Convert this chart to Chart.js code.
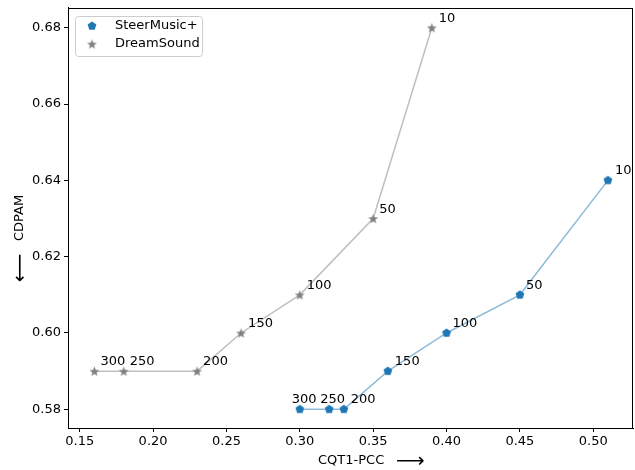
<!DOCTYPE html>
<html><head><meta charset="utf-8">
<script src="https://cdn.jsdelivr.net/npm/chart.js@4.4.1/dist/chart.umd.min.js"></script>
<style>html,body{margin:0;padding:0;background:#fff}#wrap{width:635px;height:470px}</style>
</head><body><div id="wrap"><canvas id="c" width="635" height="470"></canvas></div>
<script>
const steerX = [0.51, 0.45, 0.40, 0.36, 0.33, 0.32, 0.30];
const steerY = [0.64, 0.61, 0.60, 0.59, 0.58, 0.58, 0.58];
const dreamX = [0.39, 0.35, 0.30, 0.26, 0.23, 0.18, 0.16];
const dreamY = [0.68, 0.63, 0.61, 0.60, 0.59, 0.59, 0.59];
const stepLabels = ['10', '50', '100', '150', '200', '250', '300'];
const xTicks = [0.15, 0.20, 0.25, 0.30, 0.35, 0.40, 0.45, 0.50];
const yTicks = [0.58, 0.60, 0.62, 0.64, 0.66, 0.68];
const seriesNames = ['SteerMusic+', 'DreamSound'];
// label horizontal offsets (px) per point
const steerDx = [7, 6, 6, 7, 7, -9, -8];
const dreamDx = [7, 6, 7, 7, 6, 6, 6];

const FONT = '"DejaVu Sans", sans-serif';
const BLUE = '#1f77b4', GRAY = '#808080';

function makePentagon(color, r) {
  const s = Math.ceil(r * 2 + 2), c = document.createElement('canvas');
  c.width = s; c.height = s;
  const g = c.getContext('2d'); g.fillStyle = color; g.beginPath();
  for (let i = 0; i < 5; i++) {
    const a = -Math.PI / 2 + i * 2 * Math.PI / 5;
    const px = s / 2 + r * Math.cos(a), py = s / 2 + r * Math.sin(a);
    i ? g.lineTo(px, py) : g.moveTo(px, py);
  }
  g.closePath(); g.fill(); return c;
}
function makeStar(color, r) {
  const s = Math.ceil(r * 2 + 2), c = document.createElement('canvas');
  c.width = s; c.height = s;
  const g = c.getContext('2d'); g.fillStyle = color; g.beginPath();
  for (let i = 0; i < 10; i++) {
    const a = -Math.PI / 2 + i * Math.PI / 5;
    const rr = i % 2 ? r * 0.42 : r;
    const px = s / 2 + rr * Math.cos(a), py = s / 2 + 0.5 + rr * Math.sin(a);
    i ? g.lineTo(px, py) : g.moveTo(px, py);
  }
  g.closePath(); g.fill(); return c;
}
const pent = makePentagon(BLUE, 4.6);
const star = makeStar(GRAY, 5.2);

const toPts = (xs, ys) => xs.map((x, i) => ({x: x, y: ys[i]}));

const overlay = {
  id: 'overlay',
  afterDraw(chart) {
    const ctx = chart.ctx, a = chart.chartArea;
    const xs = chart.scales.x, ys = chart.scales.y;
    ctx.save();
    ctx.strokeStyle = '#000'; ctx.lineWidth = 1;
    ctx.strokeRect(Math.round(a.left) + 0.5, Math.round(a.top) + 0.5, Math.round(a.right - a.left) - 1, Math.round(a.bottom - a.top) - 1);
    ctx.fillStyle = '#000'; ctx.font = '13px ' + FONT; ctx.textBaseline = 'alphabetic'; ctx.textAlign = 'left';
    const ann = (X, Y, dx) => X.forEach((v, i) => {
      ctx.fillText(stepLabels[i], xs.getPixelForValue(v) + dx[i], ys.getPixelForValue(Y[i]) - 6);
    });
    ann(steerX, steerY, steerDx);
    ann(dreamX, dreamY, dreamDx);
    ctx.textAlign = 'left'; ctx.textBaseline = 'middle';
    ctx.fillText('CQT1-PCC', 318, 461);
    ctx.font = '20px ' + FONT;
    ctx.fillText('\u27F6', 396, 462);
    ctx.save();
    ctx.translate(20, 228); ctx.rotate(-Math.PI / 2);
    ctx.textAlign = 'center';
    ctx.font = '13px ' + FONT;
    ctx.fillText('CDPAM', 10, 0);
    ctx.font = '20px ' + FONT;
    ctx.fillText('\u27F5', -40, 1);
    ctx.restore();
    const lx = 75.5, ly = 16.5, lw = 127, lh = 40, r = 3;
    ctx.beginPath();
    ctx.moveTo(lx + r, ly); ctx.lineTo(lx + lw - r, ly); ctx.arcTo(lx + lw, ly, lx + lw, ly + r, r);
    ctx.lineTo(lx + lw, ly + lh - r); ctx.arcTo(lx + lw, ly + lh, lx + lw - r, ly + lh, r);
    ctx.lineTo(lx + r, ly + lh); ctx.arcTo(lx, ly + lh, lx, ly + lh - r, r);
    ctx.lineTo(lx, ly + r); ctx.arcTo(lx, ly, lx + r, ly, r); ctx.closePath();
    ctx.fillStyle = 'rgba(255,255,255,0.8)'; ctx.fill();
    ctx.strokeStyle = '#cccccc'; ctx.stroke();
    ctx.drawImage(pent, 92 - pent.width / 2, 26 - pent.height / 2);
    ctx.drawImage(star, 92 - star.width / 2, 44 - star.height / 2);
    ctx.fillStyle = '#000'; ctx.font = '13px ' + FONT; ctx.textAlign = 'left'; ctx.textBaseline = 'middle';
    ctx.fillText(seriesNames[0], 115, 26);
    ctx.fillText(seriesNames[1], 115, 44);
    ctx.restore();
  }
};

new Chart(document.getElementById('c'), {
  type: 'scatter',
  data: {
    datasets: [
      {label: seriesNames[0], data: toPts(steerX, steerY), showLine: true,
       borderColor: 'rgba(31,119,180,0.5)', borderWidth: 1.5, pointStyle: pent,
       pointBackgroundColor: BLUE, pointBorderWidth: 0},
      {label: seriesNames[1], data: toPts(dreamX, dreamY), showLine: true,
       borderColor: 'rgba(128,128,128,0.5)', borderWidth: 1.5, pointStyle: star,
       pointBackgroundColor: GRAY, pointBorderWidth: 0}
    ]
  },
  options: {
    responsive: false, animation: false, devicePixelRatio: 1,
    layout: {autoPadding: false, padding: {top: 7.5, right: 2, left: 0, bottom: 0}},
    plugins: {legend: {display: false}, tooltip: {enabled: false}},
    scales: {
      x: {type: 'linear', min: 0.142, max: 0.5271,
          afterFit: s => { s.height = 42; s.paddingLeft = 0; s.paddingRight = 0; },
          afterBuildTicks: s => { s.ticks = xTicks.map(v => ({value: v})); },
          ticks: {color: '#000', font: {family: FONT, size: 13}, padding: 2,
                  callback: v => v.toFixed(2)},
          grid: {drawOnChartArea: false, color: '#000', tickLength: 4, tickWidth: 1},
          border: {display: true, color: '#000'}},
      y: {type: 'linear', min: 0.5751, max: 0.6853,
          afterFit: s => { s.width = 68; s.paddingTop = 0; s.paddingBottom = 0; },
          afterBuildTicks: s => { s.ticks = yTicks.map(v => ({value: v})); },
          ticks: {color: '#000', font: {family: FONT, size: 13}, padding: 3,
                  callback: v => v.toFixed(2)},
          grid: {drawOnChartArea: false, color: '#000', tickLength: 4, tickWidth: 1},
          border: {display: true, color: '#000'}}
    }
  },
  plugins: [overlay]
});
</script></body></html>
